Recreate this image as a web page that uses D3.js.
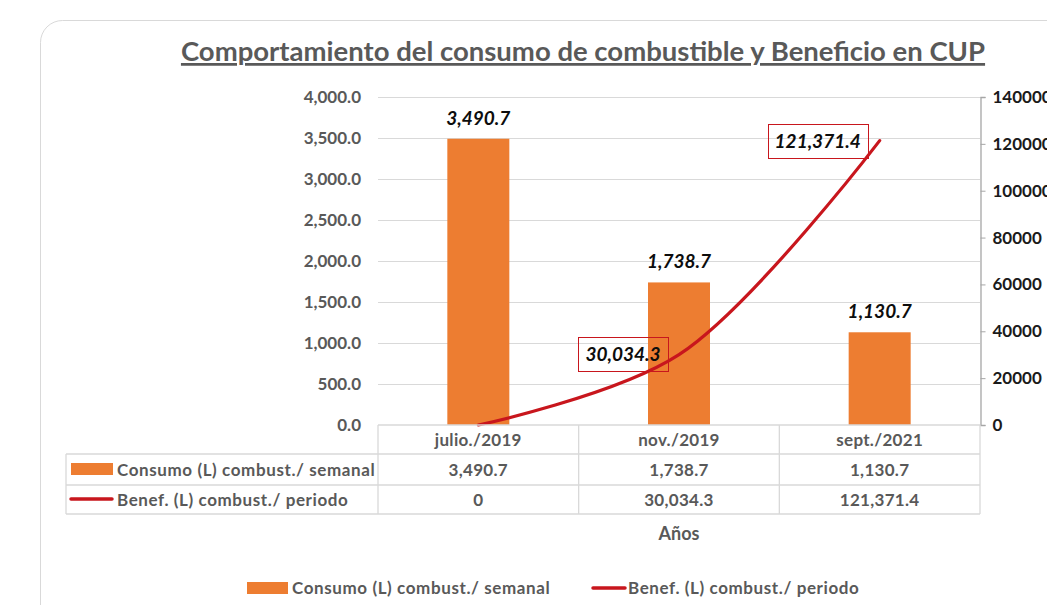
<!DOCTYPE html>
<html>
<head>
<meta charset="utf-8">
<script src="https://cdn.jsdelivr.net/npm/d3@7"></script>
<style>
  body { margin: 0; background: #fff; overflow: hidden; }
  svg { display: block; font-family: Lato, "Open Sans", sans-serif; }
</style>
</head>
<body>
<svg id="chart" width="1047" height="605"></svg>
<script>
// ── data ────────────────────────────────────────────────
const periods  = ['julio./2019', 'nov./2019', 'sept./2021'];
const consumo  = [3490.7, 1738.7, 1130.7];
const benef    = [0, 30034.3, 121371.4];
const leftTicks  = [0, 500, 1000, 1500, 2000, 2500, 3000, 3500, 4000];
const rightTicks = [0, 20000, 40000, 60000, 80000, 100000, 120000, 140000];
const seriesNames = ['Consumo (L) combust./ semanal', 'Benef. (L) combust./ periodo'];

const ORANGE = '#ed7d31';
const RED = '#c8161d';
const GREY = '#595959';
const GRID = '#d9d9d9';

const fmt1 = d3.format(',.1f');
const fmtBenef = d => d === 0 ? '0' : fmt1(d);

const svg = d3.select('#chart');

// card outline
svg.append('rect')
  .attr('x', 40.5).attr('y', 20.5)
  .attr('width', 1100).attr('height', 700)
  .attr('rx', 22)
  .attr('fill', '#fff').attr('stroke', '#d9d9d9');

// title
svg.append('text')
  .attr('x', 583).attr('y', 61)
  .attr('text-anchor', 'middle')
  .attr('font-size', 27.5).attr('font-weight', 700)
  .attr('fill', GREY)
  .attr('text-decoration', 'underline')
  .text('Comportamiento del consumo de combustible y Beneficio en CUP');

// ── scales ──────────────────────────────────────────────
const plot = { left: 378, right: 980, top: 97, bottom: 425 };

const x = d3.scaleBand().domain(periods).range([plot.left, plot.right]).padding(0);
const yL = d3.scaleLinear().domain([0, 4000]).range([plot.bottom, plot.top]);
const yR = d3.scaleLinear().domain([0, 140000]).range([plot.bottom, plot.top]);

// gridlines
svg.append('g')
  .selectAll('line')
  .data(leftTicks.filter(d => d > 0))
  .enter().append('line')
    .attr('x1', plot.left).attr('x2', plot.right)
    .attr('y1', d => Math.round(yL(d)) + 0.5).attr('y2', d => Math.round(yL(d)) + 0.5)
    .attr('stroke', GRID);

// left axis labels
svg.append('g')
  .selectAll('text')
  .data(leftTicks)
  .enter().append('text')
    .attr('x', 361).attr('y', d => yL(d) + 6)
    .attr('text-anchor', 'end')
    .attr('font-size', 17).attr('font-weight', 700)
    .attr('fill', GREY)
    .text(d => fmt1(d));

// right axis (labels run past the edge, as in the original)
const rAxis = svg.append('g')
  .attr('transform', `translate(${plot.right + 0.5},0)`)
  .call(d3.axisRight(yR).tickValues(rightTicks).tickSize(5).tickPadding(7).tickFormat(d3.format('d')));
rAxis.select('.domain').attr('stroke', '#a6a6a6').attr('stroke-width', 1.3);
rAxis.selectAll('.tick line').attr('stroke', '#a6a6a6');
rAxis.selectAll('text')
  .attr('font-family', 'Lato, sans-serif')
  .attr('font-size', 17).attr('font-weight', 700)
  .attr('fill', '#1a1a1a');

// bars
const barW = 62;
svg.append('g')
  .selectAll('rect')
  .data(periods)
  .enter().append('rect')
    .attr('x', d => x(d) + x.bandwidth() / 2 - barW / 2)
    .attr('width', barW)
    .attr('y', (d, i) => yL(consumo[i]))
    .attr('height', (d, i) => plot.bottom - yL(consumo[i]))
    .attr('fill', ORANGE);

// bar labels
svg.append('g')
  .selectAll('text')
  .data(periods)
  .enter().append('text')
    .attr('x', d => x(d) + x.bandwidth() / 2)
    .attr('y', (d, i) => yL(consumo[i]) - 14)
    .attr('text-anchor', 'middle')
    .attr('font-size', 19).attr('font-weight', 700).attr('font-style', 'italic')
    .attr('fill', '#0d0d0d')
    .text((d, i) => fmt1(consumo[i]));

// line
const linePts = periods.map((d, i) => [x(d) + x.bandwidth() / 2, yR(benef[i])]);
svg.append('path')
  .attr('d', d3.line().curve(d3.curveCatmullRom.alpha(0.5))(linePts))
  .attr('fill', 'none')
  .attr('stroke', RED)
  .attr('stroke-width', 3.2)
  .attr('stroke-linecap', 'round');

// line labels in boxes (only for non-zero)
const boxOffsets = [null, { dx: -56, dy: -1 }, { dx: -62, dy: 0 }];
const boxW = [0, 90, 100];
periods.forEach((p, i) => {
  if (!boxOffsets[i]) return;
  const cx = linePts[i][0] + boxOffsets[i].dx;
  const cy = linePts[i][1] + boxOffsets[i].dy;
  svg.append('rect')
    .attr('x', Math.round(cx - boxW[i] / 2) + 0.5).attr('y', Math.round(cy - 17) + 0.5)
    .attr('width', boxW[i]).attr('height', 34)
    .attr('fill', 'none').attr('stroke', RED).attr('stroke-width', 1);
  svg.append('text')
    .attr('x', cx).attr('y', cy + 7)
    .attr('text-anchor', 'middle')
    .attr('font-size', 19).attr('font-weight', 700).attr('font-style', 'italic')
    .attr('fill', '#0d0d0d')
    .text(fmt1(benef[i]));
});

// ── data table ─────────────────────────────────────────
const rowY = [425, 454, 485, 514];
const tableLeft = 66;
const tbl = svg.append('g').attr('stroke', GRID).attr('stroke-width', 1.3);
tbl.append('line').attr('x1', plot.left).attr('x2', plot.right).attr('y1', rowY[0]).attr('y2', rowY[0]);
rowY.slice(1).forEach(y => {
  tbl.append('line').attr('x1', tableLeft).attr('x2', plot.right).attr('y1', y).attr('y2', y);
});
[...periods.map(p => x(p)), plot.right].forEach(v => {
  tbl.append('line').attr('x1', v).attr('x2', v).attr('y1', rowY[0]).attr('y2', rowY[3]);
});
tbl.append('line').attr('x1', tableLeft).attr('x2', tableLeft).attr('y1', rowY[1]).attr('y2', rowY[3]);

const cellText = (xc, yc, t) => svg.append('text')
  .attr('x', xc).attr('y', yc)
  .attr('text-anchor', 'middle')
  .attr('font-size', 17).attr('font-weight', 700)
  .attr('letter-spacing', 0.3)
  .attr('fill', GREY)
  .text(t);

periods.forEach((p, i) => {
  const xc = x(p) + x.bandwidth() / 2;
  cellText(xc, 446, p);
  cellText(xc, 476, fmt1(consumo[i]));
  cellText(xc, 506, fmtBenef(benef[i]));
});

// row legend keys
svg.append('rect').attr('x', 71).attr('y', 463).attr('width', 42).attr('height', 12).attr('fill', ORANGE);
svg.append('line').attr('x1', 71).attr('x2', 112).attr('y1', 499).attr('y2', 499)
  .attr('stroke', RED).attr('stroke-width', 3.5).attr('stroke-linecap', 'round');
seriesNames.forEach((n, i) => {
  svg.append('text')
    .attr('x', 117).attr('y', i === 0 ? 476 : 506)
    .attr('font-size', 17).attr('font-weight', 700)
    .attr('letter-spacing', 0.6)
    .attr('fill', GREY)
    .text(n);
});

// axis title
svg.append('text')
  .attr('x', x(periods[1]) + x.bandwidth() / 2).attr('y', 540)
  .attr('text-anchor', 'middle')
  .attr('font-size', 18).attr('font-weight', 700)
  .attr('fill', GREY)
  .text('Años');

// bottom legend
const lg = svg.append('g');
lg.append('rect').attr('x', 247).attr('y', 582).attr('width', 41).attr('height', 12).attr('fill', ORANGE);
lg.append('text').attr('x', 292).attr('y', 594)
  .attr('font-size', 17).attr('font-weight', 700).attr('letter-spacing', 0.6)
  .attr('fill', GREY).text(seriesNames[0]);
lg.append('line').attr('x1', 593).attr('x2', 625).attr('y1', 588).attr('y2', 588)
  .attr('stroke', RED).attr('stroke-width', 3.5).attr('stroke-linecap', 'round');
lg.append('text').attr('x', 628).attr('y', 594)
  .attr('font-size', 17).attr('font-weight', 700).attr('letter-spacing', 0.6)
  .attr('fill', GREY).text(seriesNames[1]);
</script>
</body>
</html>
